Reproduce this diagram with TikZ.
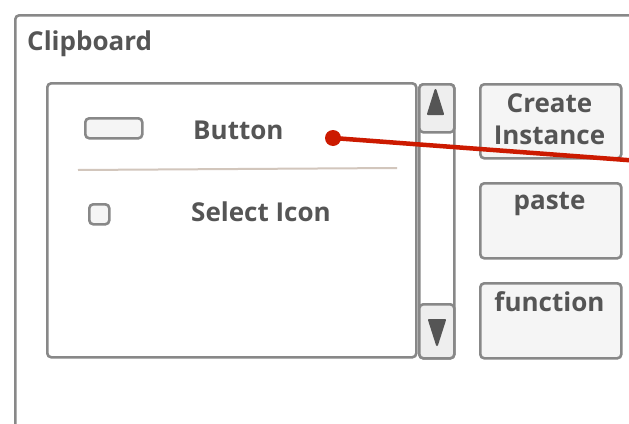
\documentclass[tikz,border=0pt]{standalone}
\usepackage{fontspec}
\setmainfont{Open Sans}
\definecolor{framegray}{HTML}{888888}
\definecolor{btnfill}{HTML}{F5F5F5}
\definecolor{scrollfill}{HTML}{EEEEEE}
\definecolor{textgray}{HTML}{555555}
\definecolor{divider}{HTML}{D2C6BC}
\definecolor{redline}{HTML}{CC1A00}
\tikzset{
  frame/.style={draw=framegray, line width=2.6pt, rounded corners=4pt, inner sep=0pt},
  btnbox/.style={frame, fill=btnfill, anchor=north west},
  scrollbtn/.style={frame, fill=scrollfill, anchor=north west},
  lbl/.style={text=textgray, font=\fontsize{26}{32}\selectfont\bfseries, inner sep=0pt},
  arrowtri/.style={fill=textgray, draw=textgray, line width=2pt, line join=round},
}
\begin{document}
\begin{tikzpicture}[x=1pt,y=-1pt]
\useasboundingbox (0,0) rectangle (629,423);
\clip (0,0) rectangle (629,423);
% outer frame
\node[frame, fill=white, anchor=north west, minimum width=640pt, minimum height=440pt] (outer) at (14,14) {};
\node[lbl, anchor=west] (title) at (27,44) {Clipboard};
% list box
\node[frame, fill=white, anchor=north west, minimum width=369pt, minimum height=274pt] (list) at (46,82) {};
\node[frame, fill=btnfill, anchor=north west, minimum width=57pt, minimum height=20pt] (btnicon) at (84,117) {};
\node[lbl, anchor=west] (btntext) at (193,130) {Button};
\coordinate (divL) at (78,170);
\coordinate (divR) at (397,168);
\draw[divider, line width=2pt] (divL) -- (divR);
\node[frame, fill=btnfill, anchor=north west, minimum width=20pt, minimum height=20pt] (check) at (88,203) {};
\node[lbl, anchor=west] (seltext) at (191,212) {Select Icon};
% scrollbar
\node[frame, fill=white, anchor=north west, minimum width=35pt, minimum height=274pt] (track) at (418,83) {};
\node[scrollbtn, minimum width=35pt, minimum height=48pt] (up) at (418,83) {};
\node[scrollbtn, minimum width=35pt, minimum height=54pt] (down) at (418,303) {};
\draw[arrowtri] (435.5,90) -- (443,114) -- (428,114) -- cycle;
\draw[arrowtri] (437,345) -- (445,320) -- (429,320) -- cycle;
% buttons
\node[btnbox, minimum width=141pt, minimum height=74pt] (create) at (479,83) {};
\node[lbl, align=center] (createtext) at (549.5,119) {Create\\Instance};
\node[btnbox, minimum width=141pt, minimum height=75pt] (paste) at (479,182) {};
\node[lbl] (pastetext) at (549.5,204) {paste};
\node[btnbox, minimum width=141pt, minimum height=75pt] (func) at (479,282) {};
\node[lbl] (functext) at (549.5,302) {function};
% red connector
\node[circle, fill=redline, minimum size=16pt, inner sep=0pt] (dot) at (333,138) {};
\coordinate (redend) at (640,161);
\draw[redline, line width=4.5pt] (dot.center) -- (redend);
\end{tikzpicture}
\end{document}
